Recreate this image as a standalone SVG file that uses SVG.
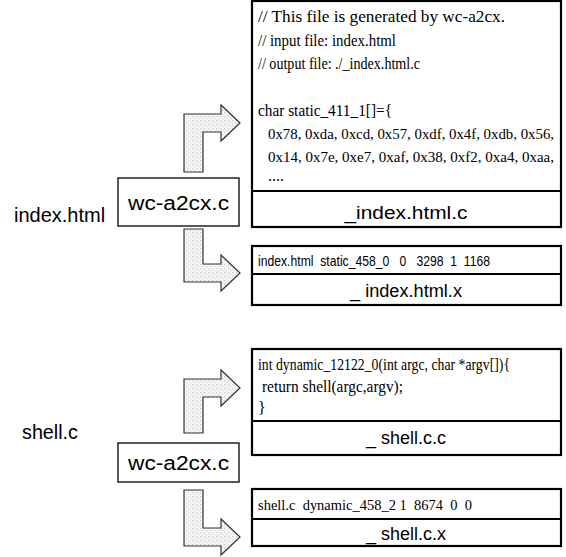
<svg xmlns="http://www.w3.org/2000/svg" width="566" height="557" viewBox="0 0 566 557">
<defs>
<pattern id="stip" width="4" height="4" patternUnits="userSpaceOnUse">
<rect width="4" height="4" fill="#f4f4f4"/>
<rect x="0" y="0" width="1" height="1" fill="#c4c4c4"/>
<rect x="2" y="2" width="1" height="1" fill="#d6d6d6"/>
</pattern>
</defs>
<style>
.box{fill:#fff;stroke:#000;stroke-width:2.2}
.div{stroke:#000;stroke-width:2.2}
.sbox{fill:#fff;stroke:#000;stroke-width:1.3}
.code{font-family:"Liberation Serif",serif;font-size:16px;fill:#000}
.hex{font-family:"Liberation Serif",serif;font-size:14.5px;fill:#000}
.lab{font-family:"Liberation Sans",sans-serif;font-size:18px;fill:#000}
.row{font-family:"Liberation Sans",sans-serif;font-size:15px;fill:#000}
.big{font-family:"Liberation Sans",sans-serif;font-size:20px;fill:#000}
.arrow{fill:url(#stip);stroke:#333;stroke-width:1.2;stroke-linejoin:miter}
</style>
<rect width="566" height="557" fill="#fff"/>
<g id="src1">
<text class="big" x="14" y="222">index.html</text>
</g>
<g id="tool1">
<rect class="sbox" x="118" y="178" width="121" height="48"/>
<text class="big" x="128" y="210" textLength="101" lengthAdjust="spacingAndGlyphs">wc-a2cx.c</text>
</g>
<g id="out1c">
<rect class="box" x="252" y="1" width="309" height="226"/>
<line class="div" x1="252" y1="191" x2="561" y2="191"/>
<text class="code" x="258" y="22" textLength="247" lengthAdjust="spacingAndGlyphs">// This file is generated by wc-a2cx.</text>
<text class="code" x="258" y="46" textLength="138" lengthAdjust="spacingAndGlyphs">// input file: index.html</text>
<text class="code" x="258" y="69" textLength="162" lengthAdjust="spacingAndGlyphs">// output file: ./_index.html.c</text>
<text class="code" x="258" y="116" textLength="134" lengthAdjust="spacingAndGlyphs">char static_411_1[]={</text>
<text class="hex" x="268" y="139" textLength="286" lengthAdjust="spacingAndGlyphs">0x78, 0xda, 0xcd, 0x57, 0xdf, 0x4f, 0xdb, 0x56,</text>
<text class="hex" x="268" y="162" textLength="286" lengthAdjust="spacingAndGlyphs">0x14, 0x7e, 0xe7, 0xaf, 0x38, 0xf2, 0xa4, 0xaa,</text>
<text class="code" x="268" y="181">....</text>
<text class="lab" x="406" y="219" text-anchor="middle" textLength="123" lengthAdjust="spacingAndGlyphs">_index.html.c</text>
</g>
<g id="out1x">
<rect class="box" x="252" y="246" width="309" height="59"/>
<line class="div" x1="252" y1="274" x2="561" y2="274"/>
<text class="row" x="258" y="266" textLength="232" lengthAdjust="spacingAndGlyphs" xml:space="preserve">index.html  static_458_0   0   3298  1  1168</text>
<text class="lab" x="406" y="297" text-anchor="middle" textLength="112" lengthAdjust="spacingAndGlyphs">_ index.html.x</text>
</g>
<g id="src2">
<text class="big" x="22" y="439" textLength="56" lengthAdjust="spacingAndGlyphs">shell.c</text>
</g>
<g id="tool2">
<rect class="sbox" x="118" y="443" width="121" height="39"/>
<text class="big" x="128" y="470" textLength="101" lengthAdjust="spacingAndGlyphs">wc-a2cx.c</text>
</g>
<g id="out2c">
<rect class="box" x="252" y="349" width="309" height="106"/>
<line class="div" x1="252" y1="421" x2="561" y2="421"/>
<text class="code" x="258" y="370" textLength="252" lengthAdjust="spacingAndGlyphs">int dynamic_12122_0(int argc, char *argv[]){</text>
<text class="code" x="262" y="392" textLength="141" lengthAdjust="spacingAndGlyphs">return shell(argc,argv);</text>
<text class="code" x="258" y="413">}</text>
<text class="lab" x="406" y="444" text-anchor="middle" textLength="80" lengthAdjust="spacingAndGlyphs">_ shell.c.c</text>
</g>
<g id="out2x">
<rect class="box" x="252" y="489" width="309" height="57"/>
<line class="div" x1="252" y1="519" x2="561" y2="519"/>
<text class="hex" x="258" y="510" textLength="214" lengthAdjust="spacingAndGlyphs" xml:space="preserve">shell.c  dynamic_458_2 1  8674  0  0</text>
<text class="lab" x="406" y="540" text-anchor="middle" textLength="80" lengthAdjust="spacingAndGlyphs">_ shell.c.x</text>
</g>
<g id="connectors">
<path class="arrow" d="M184,172 L184,114 L221,114 L221,105 L240,123 L221,141 L221,132 L203,132 L203,172 Z"/>
<path class="arrow" d="M184,229 L203,229 L203,264 L221,264 L221,255 L240,273 L221,291 L221,282 L184,282 Z"/>
<path class="arrow" d="M184,433 L184,379 L221,379 L221,370 L240,388 L221,406 L221,397 L203,397 L203,433 Z"/>
<path class="arrow" d="M184,490 L203,490 L203,528 L221,528 L221,519 L240,537 L221,555 L221,546 L184,546 Z"/>
</g>
</svg>
